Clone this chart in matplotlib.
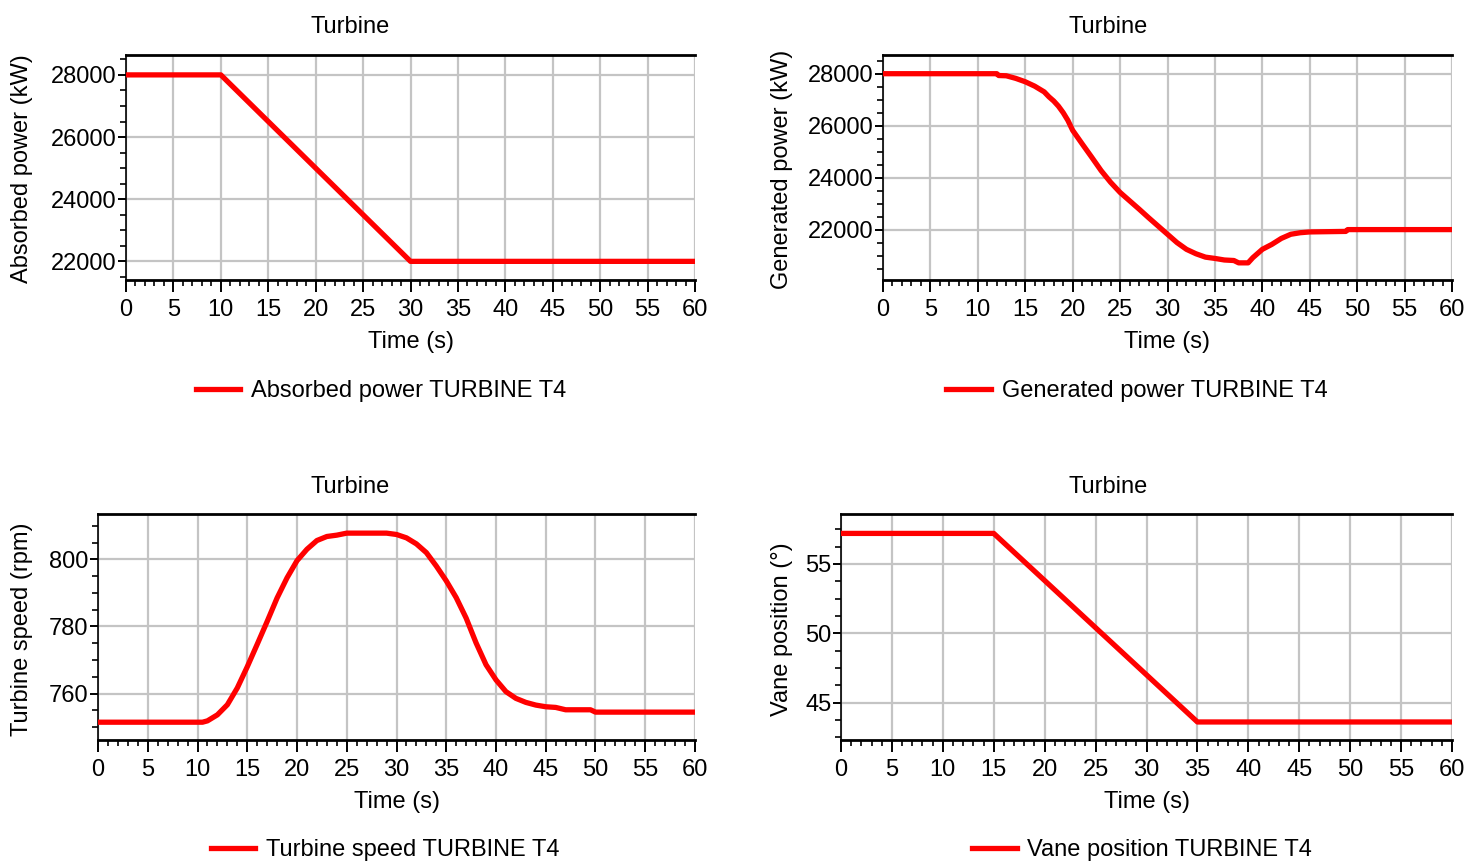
import matplotlib.pyplot as plt
from matplotlib.ticker import MultipleLocator

plt.rcParams['font.family'] = ['Liberation Sans', 'DejaVu Sans']
plt.rcParams['font.size'] = 17

# absorbed power (kW)
abs_t = [0, 10, 30, 60]
abs_p = [28000, 28000, 22000, 22000]

# generated power (kW)
gen_t = [0, 12, 12.2, 13, 14, 15, 16, 17, 17.5, 18, 18.5, 19, 19.5, 20, 21, 22, 23, 24, 25,
         26, 27, 28, 29, 30, 31, 32, 33, 34, 35, 36, 37, 37.5, 38.5, 39, 40, 41, 42,
         43, 44, 45, 48.8, 49, 60]
gen_p = [28000, 28000, 27930, 27920, 27820, 27690, 27520, 27300, 27110, 26950, 26750, 26500, 26200,
         25820, 25300, 24790, 24270, 23820, 23430, 23110, 22790, 22460, 22140, 21820, 21500,
         21240, 21070, 20940, 20890, 20830, 20810, 20720, 20720, 20920, 21240, 21430, 21660,
         21820, 21880, 21910, 21930, 22000, 22000]

# turbine speed (rpm)
spd_t = [0, 10.5, 11, 12, 13, 14, 15, 16, 17, 18, 19, 20, 21, 22, 23, 24, 25, 29, 30, 31,
         32, 33, 34, 35, 36, 37, 38, 39, 40, 41, 42, 43, 44, 45, 46, 47, 49.5, 50, 60]
spd_v = [751.5, 751.5, 751.9, 753.7, 756.7, 761.7, 768.0, 774.7, 781.5, 788.5, 794.5, 799.6,
         803.0, 805.6, 806.8, 807.2, 807.8, 807.8, 807.4, 806.4, 804.6, 802.0, 798.0, 793.6,
         788.6, 782.5, 775.1, 768.6, 764.1, 760.6, 758.6, 757.4, 756.6, 756.1, 755.9, 755.2,
         755.2, 754.5, 754.5]

# vane position (deg)
vane_t = [0, 15, 35, 60]
vane_v = [57.2, 57.2, 43.6, 43.6]

RED = '#ff0000'
W, H = 1483, 865

fig = plt.figure(figsize=(14.83, 8.65), dpi=100)


def px(x0, x1, y0, y1):
    return [x0 / W, 1 - y1 / H, (x1 - x0) / W, (y1 - y0) / H]


def make_panel(rect, t, v, ylim, ymajor, yminor, ylabel, ylab_x, legend_text, leg_xy, title_xy):
    ax = fig.add_axes(rect)
    ax.plot(t, v, color=RED, lw=3.8, solid_capstyle='butt', zorder=3)
    ax.set_xlim(0, 60)
    ax.set_ylim(*ylim)
    ax.xaxis.set_major_locator(MultipleLocator(5))
    ax.xaxis.set_minor_locator(MultipleLocator(1))
    ax.yaxis.set_major_locator(MultipleLocator(ymajor))
    ax.yaxis.set_minor_locator(MultipleLocator(yminor))
    ax.grid(True, which='major', color='#c4c4c4', lw=1.6)
    ax.set_axisbelow(True)
    ax.tick_params(which='major', direction='out', length=8.5, width=1.4, pad=5, colors='black')
    ax.tick_params(which='minor', direction='out', length=4.3, width=1.2)
    ax.tick_params(axis='y', which='major', length=6, pad=1)
    ax.spines['right'].set_visible(False)
    for s in ('top', 'bottom'):
        ax.spines[s].set_linewidth(2)
    ax.spines['left'].set_linewidth(1.2)
    ax.set_xlabel('Time (s)', va='top')
    ax.xaxis.set_label_coords(0.5, -51 / (rect[3] * H))
    fig.text(ylab_x / W, 1 - (title_xy[1] + 142) / H, ylabel, rotation=90, ha='center', va='center')
    fig.text(title_xy[0] / W, 1 - title_xy[1] / H, 'Turbine', ha='center', va='center')
    line, = ax.plot([], [], color=RED, lw=3.8)
    fig.legend([line], [legend_text], loc='center', bbox_to_anchor=(leg_xy[0] / W, 1 - leg_xy[1] / H),
               frameon=False, handlelength=1.9, handletextpad=0.45)
    return ax


make_panel(px(126, 695, 55, 280), abs_t, abs_p, (21400, 28640), 2000, 500,
           'Absorbed power (kW)', 22, 'Absorbed power TURBINE T4', (381, 391), (350, 27))
make_panel(px(883, 1452, 55, 280), gen_t, gen_p, (20060, 28720), 2000, 500,
           'Generated power (kW)', 782, 'Generated power TURBINE T4', (1137, 391), (1108, 27))
make_panel(px(98, 695, 514, 740), spd_t, spd_v, (746.2, 813.5), 20, 5,
           'Turbine speed (rpm)', 22, 'Turbine speed TURBINE T4', (385, 850), (350, 487))
make_panel(px(841, 1452, 514, 740), vane_t, vane_v, (42.3, 58.6), 5, 1.25,
           'Vane position (°)', 782, 'Vane position TURBINE T4', (1142, 850), (1108, 487))

fig.savefig('out.png', dpi=100)
